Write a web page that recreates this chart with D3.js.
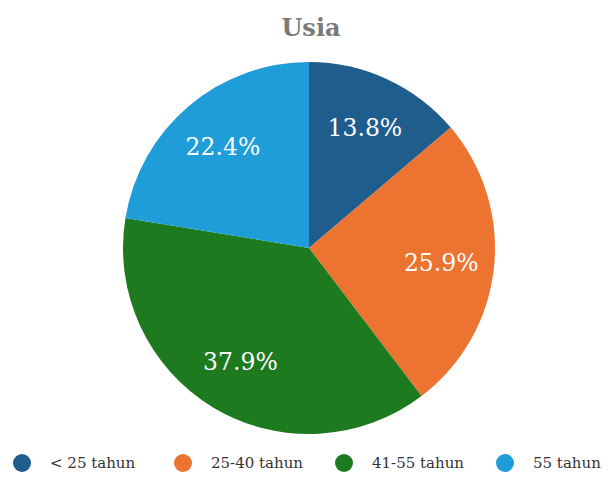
<!DOCTYPE html>
<html>
<head>
<meta charset="utf-8">
<script src="https://cdn.jsdelivr.net/npm/d3@7"></script>
<style>
  html, body { margin: 0; padding: 0; background: #fff; }
  svg { display: block; }
  svg text { font-family: "DejaVu Serif", "Liberation Serif", "Noto Serif", serif; }
</style>
</head>
<body>
<svg id="chart" width="608" height="477"></svg>
<script>
// Age groups of respondents (counts) and their colours
const categories = ["< 25 tahun", "25-40 tahun", "41-55 tahun", "55 tahun"];
const counts = [8, 15, 22, 13];
const colors = ["#1f5d8c", "#ec7330", "#1e7a1e", "#1e9dd8"];
const title = "Usia";

const svg = d3.select("#chart");
const cx = 309, cy = 248, R = 186;

svg.append("text")
  .attr("x", 311).attr("y", 36)
  .attr("text-anchor", "middle")
  .attr("font-weight", "bold")
  .attr("font-size", 24)
  .attr("fill", "#7a7a7a")
  .text(title);

const total = d3.sum(counts);
const pie = d3.pie().sort(null).value(d => d)(counts);
const arc = d3.arc().innerRadius(0).outerRadius(R);
const labelArc = d3.arc().innerRadius(133).outerRadius(133);

const g = svg.append("g").attr("transform", `translate(${cx},${cy})`);

g.selectAll("path.slice")
  .data(pie)
  .join("path")
  .attr("class", "slice")
  .attr("d", arc)
  .attr("fill", (d, i) => colors[i]);

g.selectAll("text.pct")
  .data(pie)
  .join("text")
  .attr("class", "pct")
  .attr("transform", d => `translate(${labelArc.centroid(d)})`)
  .attr("text-anchor", "middle")
  .attr("dy", "0.35em")
  .attr("font-size", 23.5)
  .attr("fill", "#fff")
  .text(d => (d.value / total * 100).toFixed(1) + "%");

// Legend along the bottom
const legendX = d3.scalePoint().domain(categories).range([22, 505]);
const legend = svg.append("g")
  .selectAll("g")
  .data(categories)
  .join("g")
  .attr("transform", d => `translate(${legendX(d)},463)`);

legend.append("circle")
  .attr("r", 9)
  .attr("fill", (d, i) => colors[i]);

legend.append("text")
  .attr("x", 28)
  .attr("dy", "0.35em")
  .attr("font-size", 15)
  .attr("fill", "#333")
  .text(d => d);
</script>
</body>
</html>
